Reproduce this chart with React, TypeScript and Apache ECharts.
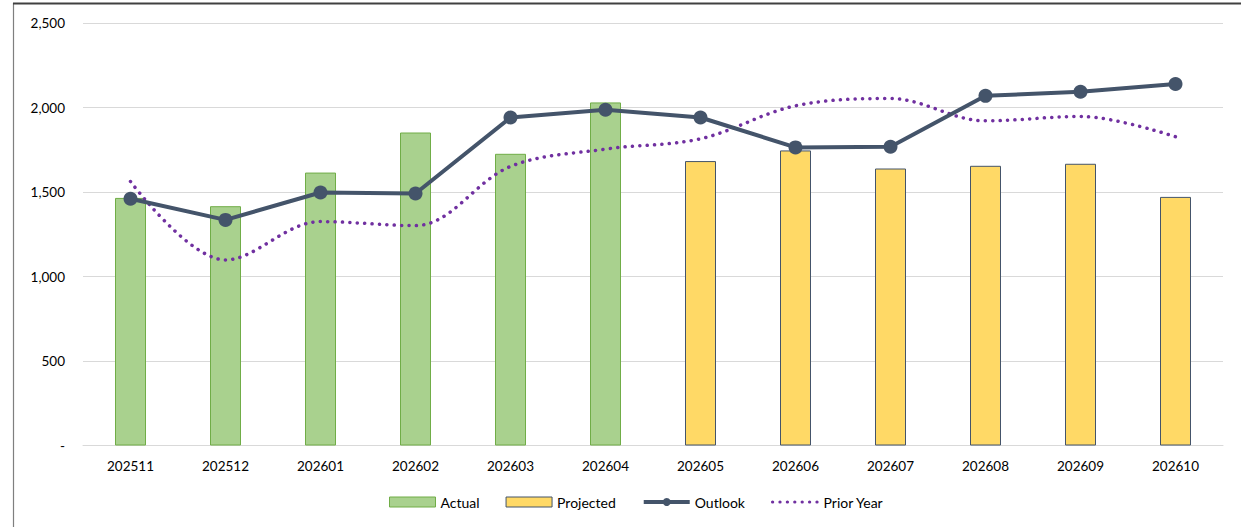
import React, { useEffect, useRef } from "react";
import * as echarts from "echarts";

const categories = ["202511", "202512", "202601", "202602", "202603", "202604", "202605", "202606", "202607", "202608", "202609", "202610"];
const actual = [1465, 1416, 1615, 1852, 1726, 2030, null, null, null, null, null, null];
const projected = [null, null, null, null, null, null, 1683, 1746, 1639, 1655, 1667, 1471];
const outlook = [1460, 1335, 1497, 1491, 1941, 1987, 1941, 1764, 1768, 2069, 2093, 2139];
const priorYear = [1562, 1098, 1325, 1301, 1651, 1754, 1815, 2010, 2053, 1921, 1947, 1827];
const yTicks = { min: 0, max: 2500, interval: 500 };

const FONT = "Lato, 'Open Sans', sans-serif";

export default function App() {
  const ref = useRef<HTMLDivElement>(null);
  useEffect(() => {
    document.body.style.margin = "0";
    const chart = echarts.init(ref.current!, null, { renderer: "svg" });
    chart.setOption({
      animation: false,
      backgroundColor: "#ffffff",
      textStyle: { fontFamily: FONT },
      grid: { left: 83, right: 18, top: 23, bottom: 81.5, containLabel: false },
      graphic: [
        { type: "line", shape: { x1: 13.5, y1: 3, x2: 13.5, y2: 527 }, style: { stroke: "#7f7f7f", lineWidth: 1.2 } },
        { type: "line", shape: { x1: 13, y1: 3.5, x2: 1241, y2: 3.5 }, style: { stroke: "#404040", lineWidth: 1.8 } },
      ],
      legend: {
        bottom: 13,
        left: 384,
        itemWidth: 46,
        itemHeight: 10,
        itemGap: 26,
        textStyle: { fontFamily: FONT, fontSize: 14, color: "#000" },
        data: [
          { name: "Actual", icon: "rect", itemStyle: { borderWidth: 1 } },
          { name: "Projected", icon: "rect", itemStyle: { borderWidth: 1 } },
          { name: "Outlook", lineStyle: { width: 4 } },
          { name: "Prior Year", itemStyle: { opacity: 0 }, lineStyle: { width: 3.2 } },
        ],
      },
      xAxis: {
        type: "category",
        data: categories,
        axisTick: { show: false },
        axisLine: { lineStyle: { color: "#D9D9D9", width: 1 } },
        axisLabel: { color: "#000", fontSize: 13.5, fontFamily: FONT, margin: 13 },
      },
      yAxis: {
        type: "value",
        min: yTicks.min,
        max: yTicks.max,
        interval: yTicks.interval,
        axisLine: { show: false },
        axisTick: { show: false },
        splitLine: { lineStyle: { color: "#D9D9D9", width: 1 } },
        axisLabel: {
          color: "#000",
          fontSize: 13.5,
          fontFamily: FONT,
          margin: 18,
          formatter: (v: number) => (v === 0 ? "-" : v.toLocaleString("en-US")),
        },
      },
      series: [
        {
          name: "Actual",
          type: "bar",
          data: actual,
          barWidth: 31,
          barGap: "-100%",
          itemStyle: { color: "#A9D18E", borderColor: "#70AD47", borderWidth: 1 },
        },
        {
          name: "Projected",
          type: "bar",
          data: projected,
          barWidth: 31,
          barGap: "-100%",
          itemStyle: { color: "#FFD966", borderColor: "#44546A", borderWidth: 1 },
        },
        {
          name: "Outlook",
          type: "line",
          data: outlook,
          symbol: "circle",
          symbolSize: 14,
          lineStyle: { color: "#44546A", width: 4 },
          itemStyle: { color: "#44546A" },
          z: 4,
        },
        {
          name: "Prior Year",
          type: "line",
          data: priorYear,
          smooth: 0.35,
          symbol: "none",
          lineStyle: { color: "#7030A0", width: 3.5, type: [0.1, 7.3], cap: "round" },
          itemStyle: { color: "#7030A0" },
          z: 3,
        },
      ],
    });
    return () => chart.dispose();
  }, []);
  return <div ref={ref} style={{ width: 1241, height: 527 }} />;
}
